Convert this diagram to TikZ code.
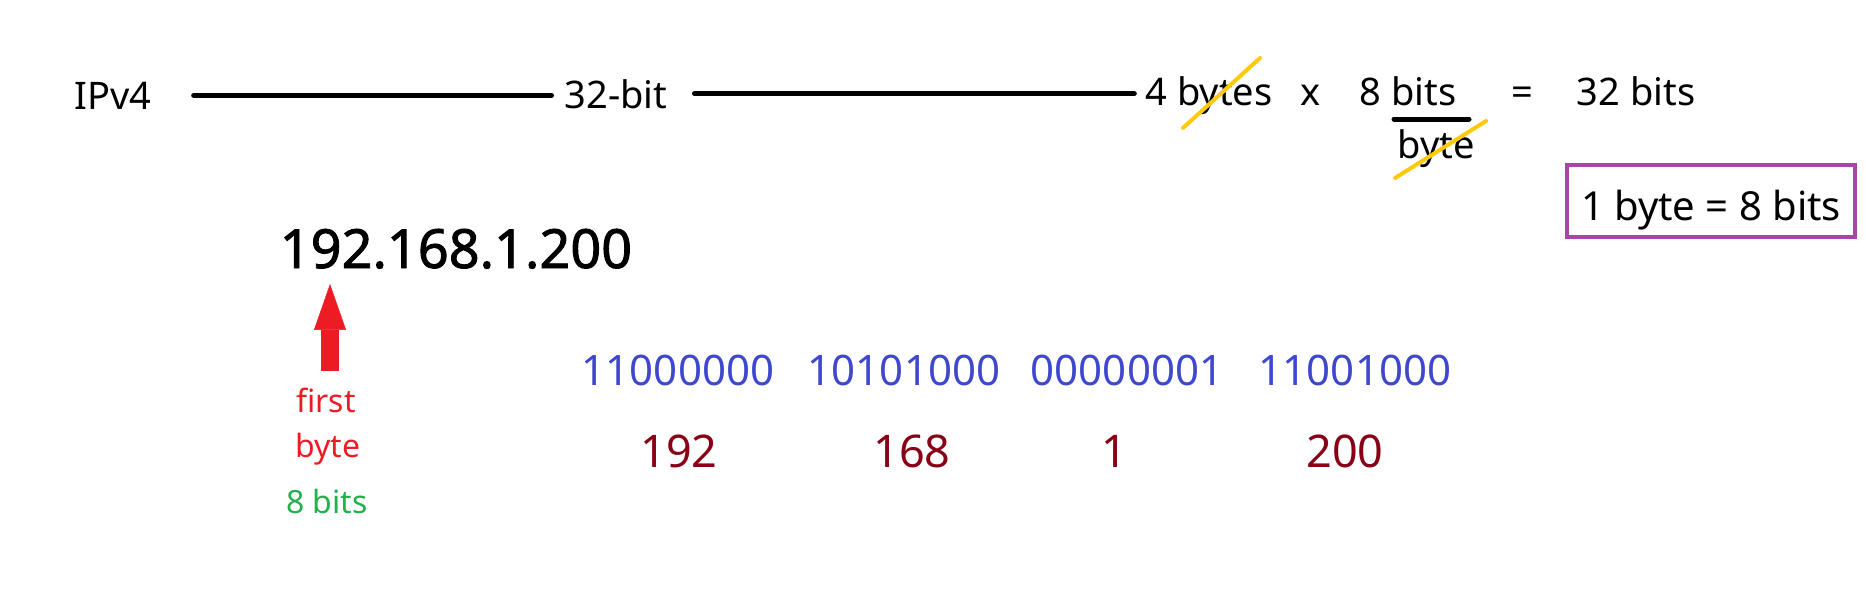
\documentclass[tikz,border=0pt]{standalone}
\usepackage{fontspec}
\setmainfont{Noto Sans}
\newfontfamily\ipheavy[FakeBold=1.6]{Noto Sans}
\usetikzlibrary{arrows.meta}
\definecolor{ipred}{HTML}{ED1C24}
\definecolor{ipgreen}{HTML}{22B14C}
\definecolor{ipblue}{HTML}{3F48CC}
\definecolor{ipdark}{HTML}{880015}
\definecolor{ippurple}{HTML}{A349A4}
\definecolor{ipgold}{HTML}{FFC90E}
\begin{document}
\begin{tikzpicture}[
  x=1pt, y=-1pt,
  txt/.style={inner sep=0pt, anchor=base, font=\fontsize{38}{46}\selectfont},
  iptxt/.style={inner sep=0pt, anchor=base, font=\ipheavy\fontsize{54}{64}\selectfont},
  smalltxt/.style={inner sep=0pt, anchor=base, font=\fontsize{32}{38}\selectfont},
  bintxt/.style={inner sep=0pt, anchor=base, text=ipblue, font=\fontsize{42}{50}\selectfont},
  dectxt/.style={inner sep=0pt, anchor=base, text=ipdark, font=\fontsize{45}{54}\selectfont},
  hline/.style={line width=5pt, line cap=round},
  strike/.style={draw=ipgold, line width=4pt, line cap=round},
  uparrow/.style={draw=ipred, line width=18pt, -{Triangle[width=32pt, length=46pt, line width=0.5pt]}}
]
\useasboundingbox (0,0) rectangle (1866,610);

\node[txt] (ipv) at (113,109) {IPv4};
\node[txt] (bit) at (616,108) {32-bit};
\node[txt] (bytes) at (1209,105) {4 bytes};
\node[txt] (times) at (1311,105) {x};
\node[txt] (eight) at (1408,105) {8 bits};
\node[txt] (per) at (1436,158) {byte};
\node[txt] (eq) at (1522,105) {=};
\node[txt] (total) at (1636,105) {32 bits};
\node[txt, font=\fontsize{40}{48}\selectfont, draw=ippurple, line width=4pt,
  text height=55pt, text depth=17pt, minimum width=288pt] (rule) at (1711,220) {1 byte = 8 bits};

\draw[hline, shorten <=42pt, shorten >=13pt] (ipv.east) -- (ipv.east -| bit.west);
\draw[hline, shorten <=27pt, shorten >=11pt] (bit.east) -- (bit.east -| bytes.west);
\draw[hline] (1394,119) -- (1469,119);
\draw[strike] (1183,128) -- (1260,58);
\draw[strike] (1395,178) -- (1486,121);

\node[iptxt] (ip) at (456,268) {192.168.1.200};
\node[smalltxt, text=ipred] (first) at (326,412) {first};
\node[smalltxt, text=ipred] (byte) at (328,457) {byte};
\node[smalltxt, text=ipgreen] (size) at (327,513) {8 bits};
\draw[uparrow, shorten <=16pt, shorten >=15pt] ([xshift=4pt]first.north)
  -- ([xshift=4pt]first.north |- ip.south);

\foreach \bin/\dec/\bx/\dx [count=\i] in {11000000/192/678/679, 10101000/168/904/912,
  00000001/1/1127/1114, 11001000/200/1355/1345}{
  \node[bintxt] (bin\i) at (\bx,385) {\bin};
  \node[dectxt] (dec\i) at (\dx,467) {\dec};
}
\end{tikzpicture}
\end{document}
